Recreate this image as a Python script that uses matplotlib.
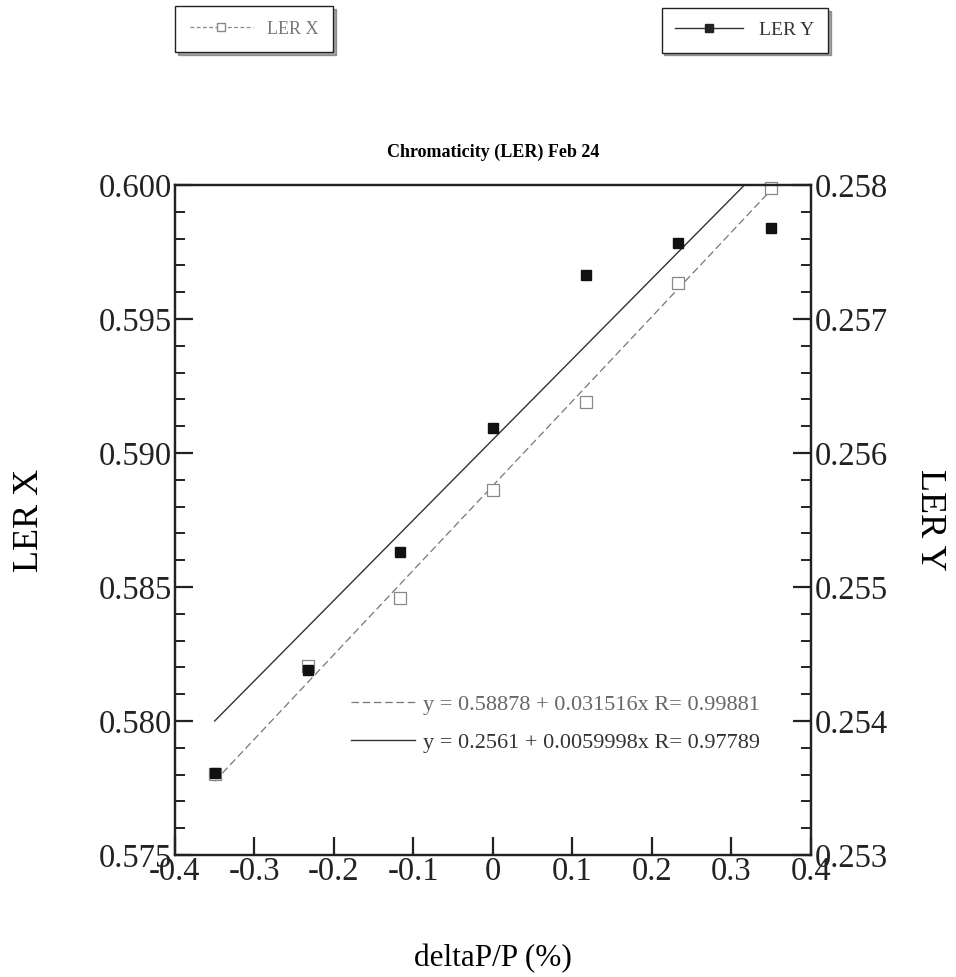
import matplotlib
matplotlib.use("Agg")
import matplotlib.pyplot as plt
from matplotlib.lines import Line2D
import numpy as np

plt.rcParams['font.family'] = ['Liberation Serif', 'DejaVu Serif']

# Data
dp = [-0.35, -0.233, -0.117, 0.0, 0.117, 0.233, 0.35]
ler_x = [0.57802, 0.58205, 0.58459, 0.58862, 0.59190, 0.59634, 0.59990]
ler_y = [0.25361, 0.25438, 0.25526, 0.25619, 0.25733, 0.25757, 0.25768]
fit_x = (0.58878, 0.031516)
fit_y = (0.2561, 0.0059998)
fit_x_label = "y = 0.58878 + 0.031516x R= 0.99881"
fit_y_label = "y = 0.2561 + 0.0059998x R= 0.97789"
xticks = [-0.4, -0.3, -0.2, -0.1, 0, 0.1, 0.2, 0.3, 0.4]
xticklabels = ["-0.4", "-0.3", "-0.2", "-0.1", "0", "0.1", "0.2", "0.3", "0.4"]
yticks_l = [0.575, 0.580, 0.585, 0.590, 0.595, 0.600]
yticks_r = [0.253, 0.254, 0.255, 0.256, 0.257, 0.258]

fig = plt.figure(figsize=(9.56, 9.77), dpi=100)
ax = fig.add_axes([0.183, 0.1249, 0.665, 0.6857])
ax2 = ax.twinx()

ax.set_xlim(-0.4, 0.4)
ax.set_ylim(0.575, 0.600)
ax2.set_ylim(0.253, 0.258)

xs = np.array([dp[0], dp[-1]])
lx, = ax.plot(xs, fit_x[0] + fit_x[1] * xs, color='#777777', lw=0.9, ls=(0, (6, 3)))
ly, = ax2.plot(xs, fit_y[0] + fit_y[1] * xs, color='#333333', lw=1.0)

ax.plot(dp, ler_x, ls='none', marker='s', ms=8, mfc='white', mec='#888888', mew=0.9, clip_on=False)
ax2.plot(dp, ler_y, ls='none', marker='s', ms=7.5, mfc='#111111', mec='#111111', clip_on=False)

ax.set_xticks(xticks)
ax.set_xticklabels(xticklabels)
ax.set_yticks(yticks_l)
ax.set_yticklabels(["%.3f" % v for v in yticks_l])
ax2.set_yticks(yticks_r)
ax2.set_yticklabels(["%.3f" % v for v in yticks_r])
ax.yaxis.set_minor_locator(matplotlib.ticker.MultipleLocator(0.001))
ax2.yaxis.set_minor_locator(matplotlib.ticker.MultipleLocator(0.0002))

for a in (ax, ax2):
    for s in a.spines.values():
        s.set_linewidth(1.6)
        s.set_color('#222222')
ax.tick_params(axis='both', which='major', direction='in', length=13, width=1.6,
               labelsize=23.5, pad=2, colors='#222222')
ax.tick_params(axis='y', which='minor', direction='in', length=7, width=1.4, colors='#222222')
ax2.tick_params(axis='y', which='major', direction='in', length=13, width=1.6,
                labelsize=23.5, pad=3, colors='#222222')
ax2.tick_params(axis='y', which='minor', direction='in', length=7, width=1.4, colors='#222222')
ax.tick_params(axis='x', pad=1)

ax.set_xlabel("deltaP/P (%)", fontsize=22.5, labelpad=41)
ax.set_ylabel("LER X", fontsize=26, labelpad=38)
ax2.set_ylabel("LER Y", fontsize=26, rotation=270, labelpad=42)
ax.set_title("Chromaticity (LER) Feb 24", fontsize=13, fontweight='bold', pad=20)

# fit equations legend
ax2.legend([lx, ly], [fit_x_label, fit_y_label], loc='upper left',
           bbox_to_anchor=(0.245, 0.27), frameon=False, fontsize=16,
           handlelength=2.9, handletextpad=0.35, labelspacing=0.8,
           labelcolor=['#666666', '#333333'])

# top legends
hx = Line2D([], [], color='#888888', lw=0.9, ls=(0, (3, 2)), marker='s', ms=6,
            mfc='white', mec='#888888')
hy = Line2D([], [], color='#333333', lw=1.0, marker='s', ms=6, mfc='#222222', mec='#222222')
leg1 = fig.legend([hx], ["LER X"], loc='center', bbox_to_anchor=(0.266, 0.970),
                  fontsize=13, shadow=True, fancybox=False, edgecolor='#222222',
                  handlelength=3.5, labelcolor='#777777', borderpad=0.8)
leg2 = fig.legend([hy], ["LER Y"], loc='center', bbox_to_anchor=(0.779, 0.969),
                  fontsize=14, shadow=True, fancybox=False, edgecolor='#222222',
                  handlelength=3.5, labelcolor='#333333', borderpad=0.7)

fig.savefig("out.png", dpi=100)
